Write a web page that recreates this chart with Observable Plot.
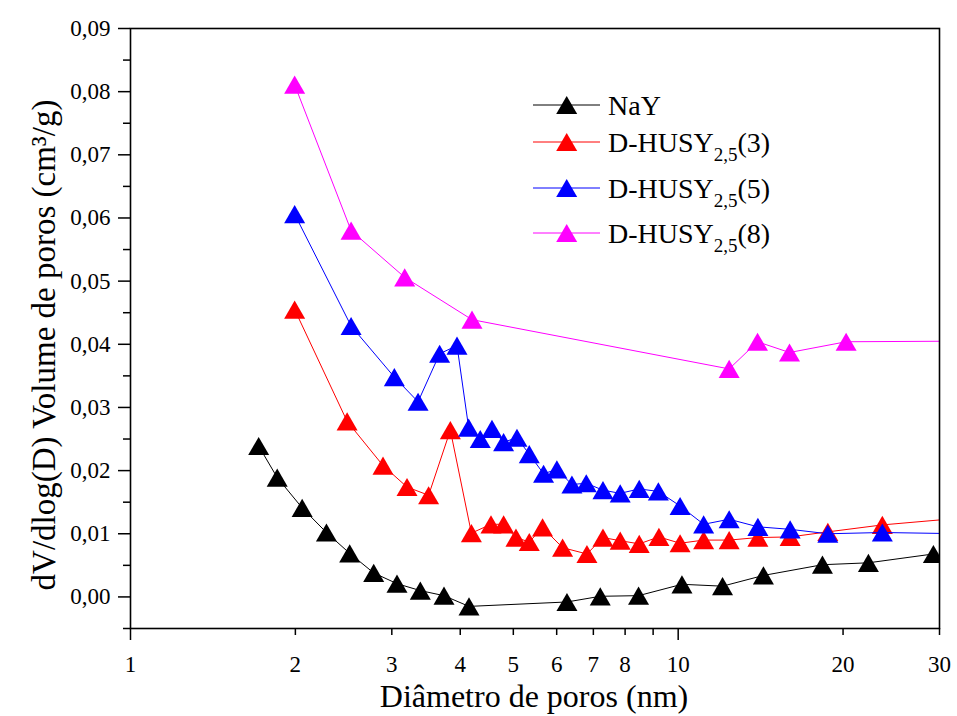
<!DOCTYPE html>
<html>
<head>
<meta charset="utf-8">
<script src="https://cdn.jsdelivr.net/npm/d3@7"></script>
<script src="https://cdn.jsdelivr.net/npm/@observablehq/plot@0.6"></script>
<style>
  body { margin: 0; background: #ffffff; }
  #chart { width: 957px; height: 716px; }
</style>
</head>
<body>
<div id="chart"></div>
<script>
// Pore size distribution (BJH): dV/dlog(D) against pore diameter, nm
const diamNaY = [1.714, 1.853, 2.058, 2.279, 2.513, 2.780, 3.066, 3.382, 3.736, 4.150, 6.265, 7.206, 8.465, 10.16, 12.05, 14.31, 18.34, 22.25, 29.24];
const volNaY  = [0.0239, 0.0189, 0.0141, 0.0102, 0.0069, 0.0038, 0.0021, 0.0010, 0.0002, -0.0015, -0.0008, 0.0001, 0.0002, 0.0020, 0.0017, 0.0034, 0.0051, 0.0054, 0.0068];

const diamH3 = [1.994, 2.486, 2.891, 3.198, 3.502, 3.837, 4.192, 4.552, 4.800, 5.056, 5.347, 5.654, 6.151, 6.814, 7.289, 7.837, 8.489, 9.222, 10.08, 11.13, 12.39, 13.98, 16.01, 18.76, 23.59, 33.0];
const volH3  = [0.0455, 0.0278, 0.0208, 0.0174, 0.0161, 0.0264, 0.0101, 0.0115, 0.0115, 0.0094, 0.0087, 0.0110, 0.0078, 0.0068, 0.0094, 0.0089, 0.0084, 0.0095, 0.0085, 0.0090, 0.0090, 0.0094, 0.0095, 0.0103, 0.0114, 0.0125];

const diamH5 = [1.994, 2.528, 3.032, 3.350, 3.668, 3.946, 4.144, 4.351, 4.571, 4.800, 5.077, 5.347, 5.678, 6.005, 6.397, 6.795, 7.289, 7.837, 8.489, 9.200, 10.08, 11.13, 12.39, 13.98, 16.01, 18.76, 23.59, 33.0];
const volH5  = [0.0606, 0.0429, 0.0348, 0.0309, 0.0385, 0.0398, 0.0268, 0.0250, 0.0266, 0.0245, 0.0252, 0.0226, 0.0195, 0.0202, 0.0178, 0.0180, 0.0169, 0.0164, 0.0171, 0.0167, 0.0144, 0.0115, 0.0123, 0.0111, 0.0107, 0.0100, 0.0102, 0.0100];

const diamH8 = [1.994, 2.528, 3.167, 4.203, 12.39, 13.96, 15.97, 20.26, 33.0];
const volH8  = [0.0811, 0.0580, 0.0506, 0.0439, 0.0361, 0.0404, 0.0387, 0.0404, 0.0405];

const xTickValues = [1, 2, 3, 4, 5, 6, 7, 8, 9, 10, 20, 30];
const xMajorTicks = [1, 10];
const xMinorTicks = [2, 3, 4, 5, 6, 7, 8, 9, 20, 30];
const yTickValues = d3.range(0, 10).map(i => i / 100);
const yMinorTicks = d3.range(0, 10).map(i => (2 * i - 1) / 200);

const seriesNames = ["NaY", "D-HUSY(3)", "D-HUSY(5)", "D-HUSY(8)"];
const seriesColors = ["#000000", "#ff0000", "#0000ff", "#ff00ff"];
const seriesDiam = [diamNaY, diamH3, diamH5, diamH8];
const seriesVol = [volNaY, volH3, volH5, volH8];

const serif = "'Liberation Serif', 'Times New Roman', serif";

// filled up-triangle centred on its bounding box
const triangle = {
  draw(ctx, size) {
    const s = Math.sqrt(4 * size / Math.sqrt(3));
    const h = s * Math.sqrt(3) / 2;
    ctx.moveTo(0, -h / 2);
    ctx.lineTo(s / 2, h / 2);
    ctx.lineTo(-s / 2, h / 2);
    ctx.closePath();
  }
};

const comma = d => d3.format(".2f")(d).replace(".", ",");

const dataMarks = seriesNames.flatMap((name, k) => {
  const rows = seriesDiam[k].map((d, i) => ({d, v: seriesVol[k][i]}));
  return [
    Plot.line(rows, {x: "d", y: "v", stroke: seriesColors[k], strokeWidth: 1, clip: true}),
    Plot.dot(rows, {x: "d", y: "v", symbol: triangle, r: 7.8, fill: seriesColors[k], stroke: "none", clip: true})
  ];
});

const svg = Plot.plot({
  width: 957,
  height: 716,
  marginLeft: 130,
  marginRight: 18,
  marginTop: 28,
  marginBottom: 88,
  style: {background: "#ffffff", color: "#000"},
  x: {type: "log", domain: [1, 30]},
  y: {domain: [-0.005, 0.09]},
  marks: [
    ...dataMarks,
    Plot.axisX({ticks: xMajorTicks, tickSize: 12, tickFormat: () => "", label: null, strokeWidth: 1.5}),
    Plot.axisX({ticks: xMinorTicks, tickSize: 7, tickFormat: () => "", label: null, strokeWidth: 1.5}),
    Plot.axisX({ticks: xTickValues, tickSize: 0, tickPadding: 27, tickFormat: d => String(d), label: null}),
    Plot.axisY({ticks: yTickValues, tickSize: 12, tickPadding: 8, tickFormat: comma, label: null, strokeWidth: 1.5}),
    Plot.axisY({ticks: yMinorTicks, tickSize: 7, tickFormat: () => "", label: null, strokeWidth: 1.5}),
    Plot.frame({stroke: "#000", strokeWidth: 1.6})
  ]
});

document.getElementById("chart").appendChild(svg);

const root = d3.select(svg);
// serif tick labels throughout
root.style("font-family", serif).style("font-size", "23px");
root.selectAll("text").style("font-family", serif).style("font-size", "23px");

// axis titles
root.append("text")
  .attr("x", 534).attr("y", 707)
  .attr("text-anchor", "middle")
  .style("font-family", serif).style("font-size", "32px")
  .text("Diâmetro de poros (nm)");

root.append("text")
  .attr("transform", "translate(55,345) rotate(-90)")
  .attr("text-anchor", "middle")
  .style("font-family", serif).style("font-size", "33px")
  .text("dV/dlog(D) Volume de poros (cm³/g)");

// legend
const legendY = [105, 142, 188, 233];
const legend = root.append("g").attr("text-anchor", "start");
seriesNames.forEach((name, k) => {
  const g = legend.append("g").attr("transform", `translate(0,${legendY[k]})`);
  g.append("line").attr("x1", 533).attr("x2", 600).attr("y1", 0).attr("y2", 0)
    .attr("stroke", seriesColors[k]).attr("stroke-width", 1);
  g.append("path").attr("transform", "translate(566.7,0)")
    .attr("d", d3.symbol(triangle, Math.PI * 7.8 * 7.8)())
    .attr("fill", seriesColors[k]);
  const t = g.append("text").attr("x", 608).attr("y", 10)
    .attr("text-anchor", "start")
    .style("font-family", serif).style("font-size", "28px");
  if (k === 0) {
    t.text(name);
  } else {
    t.append("tspan").text("D-HUSY");
    t.append("tspan").style("font-size", "19px").attr("dy", 9).text("2,5");
    t.append("tspan").attr("dy", -9).text(name.slice(6));
  }
});
</script>
</body>
</html>
